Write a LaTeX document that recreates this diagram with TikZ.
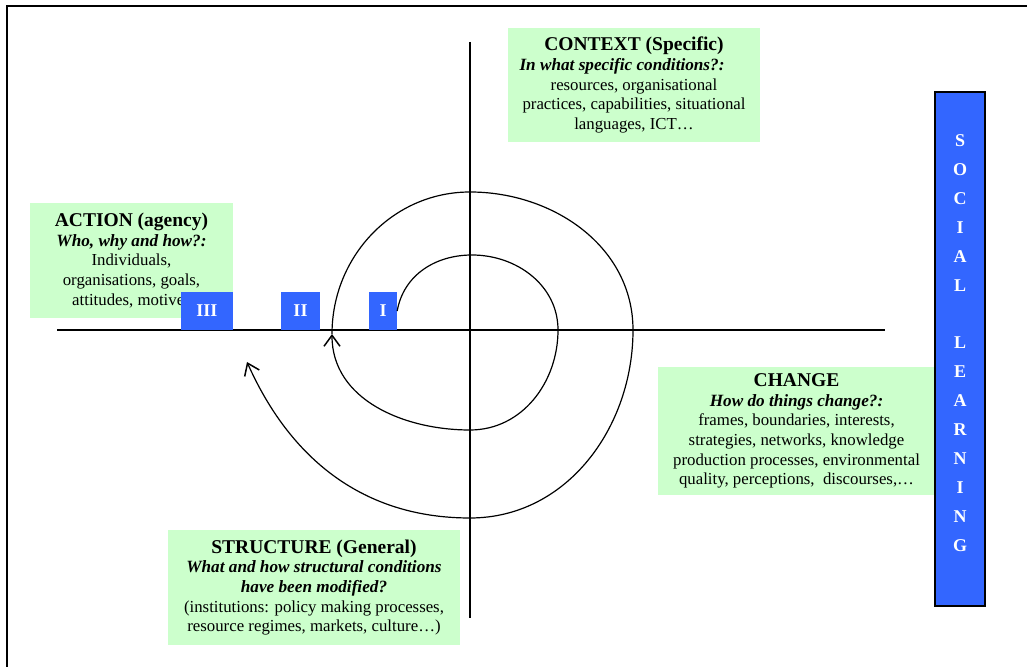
\documentclass[tikz,border=0pt]{standalone}
\usepackage{fontspec}
\setmainfont{Liberation Serif}
\usetikzlibrary{arrows.meta}
\definecolor{boxgreen}{HTML}{CCFFCC}
\definecolor{boxblue}{HTML}{3366FF}
\newcommand\hdfont{\fontsize{19.5}{21}\selectfont\bfseries}
\newcommand\subfont{\fontsize{17.2}{19.5}\selectfont\bfseries\itshape}
\begin{document}
\begin{tikzpicture}[x=1pt,y=1pt,
  greenbox/.style={fill=boxgreen, draw=none, inner sep=0pt, align=center,
    font=\fontsize{16.8}{19.6}\selectfont},
  numbox/.style={fill=boxblue, draw=none, text=white, inner sep=0pt,
    minimum height=38, font=\fontsize{18}{20}\selectfont\bfseries},
  barbox/.style={fill=boxblue, draw=black, line width=1.2pt, inner sep=0pt},
  barletters/.style={text=white, align=center, inner sep=0pt,
    font=\fontsize{18}{28.9}\selectfont\bfseries},
  axisline/.style={line width=1.6pt},
  spiral/.style={line width=1.2pt},
  tip/.style={-{Straight Barb[length=11pt,width=16pt,line width=1.5pt]}},
  frameline/.style={line width=2pt}
]
\useasboundingbox (0,0) rectangle (1027,666);
% frame
\coordinate (fbl) at (7,-10);
\coordinate (ftl) at (7,660);
\coordinate (ftr) at (1040,660);
\draw[frameline] (fbl) -- (ftl) -- (ftr);

% axes
\coordinate (hl) at (57,336);
\coordinate (hr) at (885,336);
\coordinate (vt) at (470,624);
\coordinate (vb) at (470,48);
\draw[axisline] (hl) -- (hr);
\draw[axisline] (vt) -- (vb);

% green boxes
\node[greenbox, minimum width=252, minimum height=114] (context) at (634,581)
 {{\hdfont CONTEXT (Specific)}\\
  \hbox{\subfont In what specific conditions?:\kern24pt}\\
  resources, organisational\\
  practices, capabilities, situational\\
  languages, ICT…};
\node[greenbox, minimum width=203, minimum height=115] (action) at (131.5,405.5)
 {{\hdfont ACTION (agency)}\\
  {\subfont Who, why and how?:}\\
  Individuals,\\
  organisations, goals,\\
  attitudes, motives};
\node[greenbox, minimum width=277, minimum height=128] (change) at (796.5,235)
 {{\hdfont CHANGE}\\
  {\subfont How do things change?:}\\
  frames, boundaries, interests,\\
  strategies, networks, knowledge\\
  production processes, environmental\\
  quality, perceptions,\ \ discourses,…};
\node[greenbox, minimum width=292, minimum height=115] (structure) at (314,78.5)
 {{\hdfont STRUCTURE (General)}\\
  {\subfont What and how structural conditions}\\
  {\subfont have been modified?}\\
  (institutions: policy making processes,\\
  resource regimes, markets, culture…)};

% numbered boxes
\node[numbox, minimum width=52] (III) at (207,355) {III};
\node[numbox, minimum width=39] (II) at (300.5,355) {II};
\node[numbox, minimum width=28] (I) at (383,355) {I};

% social learning bar
\node[barbox, minimum width=50, minimum height=514] (bar) at (960,317) {};
\node[barletters] (sl) at (960,323) {S\\O\\C\\I\\A\\L\\[28.9pt]L\\E\\A\\R\\N\\I\\N\\G};

% spiral
\coordinate (itop) at (472,411);
\coordinate (iright) at (558,336);
\coordinate (ibot) at (470,236);
\coordinate (m) at (332,332);
\coordinate (otop) at (470,474);
\coordinate (oright) at (633,336);
\coordinate (obot) at (470,148);
\coordinate (endpt) at (247,304);
\draw[spiral, tip] (I.east) to[out=80,in=180] (itop) to[out=0,in=90] (iright)
  to[out=-90,in=0] (ibot) to[out=180,in=-90] (m);
\draw[spiral, tip] (m) to[out=90,in=180] (otop) to[out=0,in=90] (oright)
  to[out=-90,in=0] (obot) to[out=180,in=-66] (endpt);
\end{tikzpicture}
\end{document}
